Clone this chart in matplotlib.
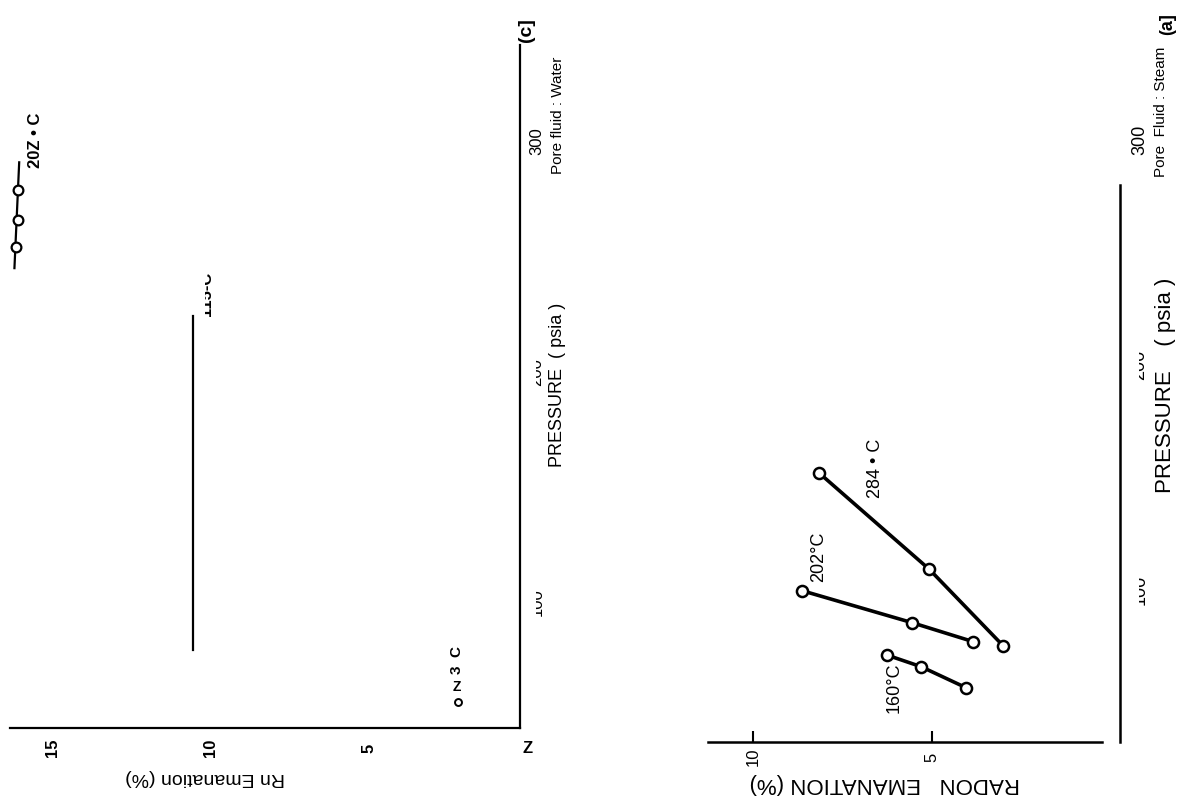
import matplotlib
matplotlib.use("Agg")
import matplotlib.pyplot as plt
from matplotlib.patches import Rectangle
from matplotlib.transforms import blended_transform_factory as blend

plt.rcParams['font.family'] = ['Liberation Sans', 'DejaVu Sans']

W, H = 1194, 805

# (c) pore fluid: water  -- pressure (psia) vs Rn emanation (%)
w204_p = [254, 266, 279]
w204_e = [16.15, 16.1, 16.08]
w204_line_p = [245, 291]
w204_line_e = [16.2, 16.05]
w115_p = [79, 224]
w115_e = [10.57, 10.57]
w23_p = [56.4]
w23_e = [2.21]

# (a) pore fluid: steam
s160_p = [71.1, 65.9, 56.6]
s160_e = [6.27, 5.31, 4.06]
s202_p = [99.7, 85.5, 77.0]
s202_e = [8.64, 5.57, 3.85]
s284_p = [151.9, 109.2, 75.1]
s284_e = [8.15, 5.08, 3.01]

press_ticks = [100, 200, 300]
water_e_ticks = [15, 10, 5]
steam_e_ticks = [10, 5]


def box(x0, y0, x1, y1):
    # pixel box -> figure fraction rect
    return [x0 / W, 1 - y1 / H, (x1 - x0) / W, (y1 - y0) / H]


def keep_right_of(t, xpx):
    t.set_clip_path(Rectangle((xpx / W, 0), 1, 1, transform=fig.transFigure))
    t.set_clip_on(True)


fig = plt.figure(figsize=(W / 100, H / 100), dpi=100)

# ---------------- panel (c) ----------------
ax1 = fig.add_axes(box(10, 45, 520, 728))
ax1.set_xlim(16.34, 0.25)
ax1.set_ylim(45.1, 342.0)
for s in ['left', 'top']:
    ax1.spines[s].set_visible(False)
for s in ['right', 'bottom']:
    ax1.spines[s].set_linewidth(1.6)
ax1.set_xticks([])
ax1.set_yticks([])
ax1.patch.set_visible(False)

ax1.plot(w204_line_e, w204_line_p, color='black', lw=1.6, clip_on=False)
ax1.plot(w204_e, w204_p, 'o', ms=7, mfc='white', mec='black', mew=1.6,
         clip_on=False)
ax1.plot(w115_e, w115_p, color='black', lw=1.6)
ax1.plot(w23_e, w23_p, 'o', ms=5, mfc='white', mec='black', mew=1.4)

ax1.text(15.55, 300.7, '20Z • C', rotation=90, ha='center', va='center',
         fontsize=12, fontweight='bold')
t = ax1.text(10.13, 233.8, '115-C', rotation=90, ha='center', va='center',
             fontsize=12, fontweight='bold')
keep_right_of(t, 205)
ax1.text(2.25, 74.7, '3  C', rotation=90, ha='center', va='center',
         fontsize=11, fontweight='bold')
ax1.text(2.25, 62.9, 'Z', ha='center', va='center', fontsize=10,
         fontweight='bold')

bx1 = blend(ax1.transData, fig.transFigure)
for v in water_e_ticks:
    ax1.text(v, 1 - 748 / H, str(v), transform=bx1, rotation=90,
             ha='center', va='center', fontsize=12, fontweight='bold')
ax1.text(0, 1 - 748 / H, 'Z', transform=bx1, ha='center', va='center',
         fontsize=12, fontweight='bold')
fig.text(205 / W, 1 - 777 / H, 'Rn Emanation (%)', rotation=180,
         ha='center', va='center', fontsize=14)

by1 = blend(fig.transFigure, ax1.transData)
for v in press_ticks:
    t = ax1.text(537 / W, v, str(v), transform=by1, rotation=90,
                 ha='center', va='center', fontsize=12)
    if v < 300:
        keep_right_of(t, 536)
fig.text(558 / W, 1 - 385 / H, 'PRESSURE  ( psia )', rotation=90,
         ha='center', va='center', fontsize=13)
fig.text(558 / W, 1 - 115 / H, 'Pore fluid : Water', rotation=90,
         ha='center', va='center', fontsize=11)
fig.text(527 / W, 1 - 30 / H, '(c]', rotation=90, ha='center', va='center',
         fontsize=14, fontweight='bold')

# ---------------- panel (a) ----------------
ax2 = fig.add_axes(box(708, 185, 1120, 742))
ax2.set_xlim(11.26, -0.25)
ax2.set_ylim(32.4, 280.0)
for s in ['left', 'top']:
    ax2.spines[s].set_visible(False)
for s in ['right', 'bottom']:
    ax2.spines[s].set_linewidth(1.8)
ax2.spines['bottom'].set_bounds(11.26, 0.25)
ax2.set_xticks(steam_e_ticks)
ax2.set_xticklabels([])
ax2.set_yticks([])
ax2.tick_params(axis='x', direction='in', length=8, width=1.5)
ax2.patch.set_visible(False)

for ee, pp in [(s160_e, s160_p), (s202_e, s202_p), (s284_e, s284_p)]:
    ax2.plot(ee, pp, '-o', color='black', lw=2.6, ms=8, mfc='white',
             mec='black', mew=1.8)

ax2.text(6.59, 154.2, '284 • C', rotation=90, ha='center', va='center',
         fontsize=13)
ax2.text(8.18, 114.7, '202°C', rotation=90, ha='center', va='center',
         fontsize=13)
ax2.text(6.06, 56.4, '160°C', rotation=90, ha='center', va='center',
         fontsize=13)

bx2 = blend(ax2.transData, fig.transFigure)
for v in steam_e_ticks:
    ax2.text(v, 1 - 757 / H, str(v), transform=bx2, rotation=90,
             ha='center', va='center', fontsize=12)
fig.text(885 / W, 1 - 783 / H, 'RADON   EMANATION (%)', rotation=180,
         ha='center', va='center', fontsize=16)

by2 = blend(fig.transFigure, ax2.transData)
for v in press_ticks:
    t = ax2.text(1140 / W, v, str(v), transform=by2, rotation=90,
                 ha='center', va='center', fontsize=13)
    if v < 300:
        keep_right_of(t, 1139)
fig.text(1165 / W, 1 - 385 / H, 'PRESSURE    ( psia )', rotation=90,
         ha='center', va='center', fontsize=16)
fig.text(1161 / W, 1 - 112 / H, 'Pore  Fluid : Steam', rotation=90,
         ha='center', va='center', fontsize=11)
fig.text(1168 / W, 1 - 24 / H, '(a]', rotation=90, ha='center', va='center',
         fontsize=13, fontweight='bold')

fig.savefig('out.png', dpi=100)
